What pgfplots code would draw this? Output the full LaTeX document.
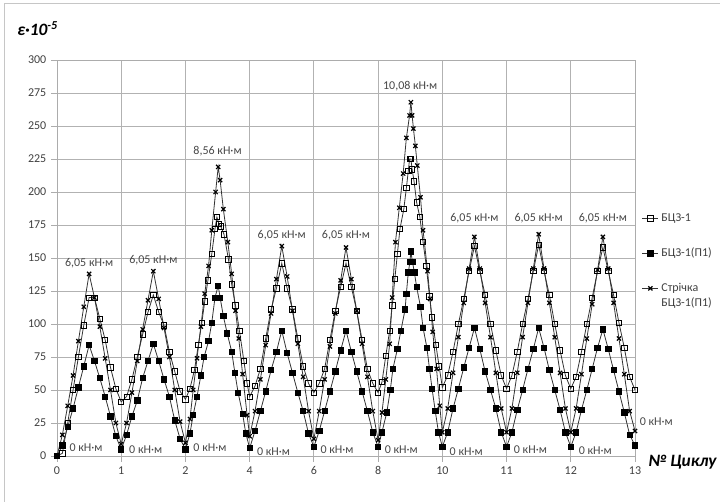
\documentclass[border=0pt]{standalone}
\usepackage{fontspec}
\setmainfont{Carlito}
\usepackage{pgfplots}
\pgfplotsset{compat=1.18}

\tikzset{
  ann/.style={font=\fontsize{9}{10}\selectfont, text=black!72, inner sep=1pt},
}

\begin{document}
\begin{tikzpicture}
\path[use as bounding box] (0,0) rectangle (540pt,376.5pt);
\draw[gray!45, line width=0.75pt] (3pt,0pt) -- (3pt,373.5pt) -- (540pt,373.5pt);
\begin{axis}[
  at={(42.75pt,34.5pt)}, anchor=south west,
  width=433.5pt, height=297pt, scale only axis,
  xmin=0, xmax=9, ymin=0, ymax=300,
  xtick={0,...,9}, xticklabels={0,1,2,4,6,8,10,11,12,13},
  ytick={0,25,...,300},
  tick pos=left,
  grid=major,
  major grid style={gray!60, line width=0.6pt},
  axis line style={gray!65, line width=0.6pt},
  tick style={gray!65, line width=0.6pt},
  tick align=outside, major tick length=4.5pt,
  ticklabel style={font=\fontsize{9}{10}\selectfont, text=black!75},
  /pgf/number format/assume math mode=true,
  clip=false,
  legend cell align=left,
  legend style={draw=none, fill=none, inner sep=0pt,
    at={(axis description cs:1,0.62)}, anchor=north west, xshift=5pt,
    font=\fontsize{9}{10}\selectfont, text=black!75, row sep=14.5pt},
  legend image code/.code={\draw[mark repeat=2,mark phase=2]
    plot coordinates {(0pt,0pt) (6pt,0pt) (12pt,0pt)};},
]

% БЦЗ-1
\addplot[black!80, line width=0.6pt, mark=square, mark size=2pt,
  mark options={solid, fill=white, draw=black, line width=0.6pt}] coordinates {
 (0,0) (0.0833,2) (0.1667,25) (0.25,50) (0.3333,75) (0.4167,99) (0.5,120) (0.5833,120) (0.6667,104) (0.75,88) (0.8333,67) (0.9167,51) (1,41)
 (1.0833,45) (1.1667,58) (1.25,75) (1.3333,92) (1.4167,109) (1.5,122) (1.5833,109) (1.6667,99) (1.75,79) (1.8333,64) (1.9167,49) (2,43)
 (2.07,51) (2.14,65) (2.20,84) (2.255,101) (2.30,117) (2.35,133) (2.41,153) (2.46,172) (2.49,181) (2.52,176) (2.55,174) (2.60,168) (2.67,149) (2.72,130) (2.78,114) (2.84,95) (2.91,72) (2.96,55) (3,45)
 (3.0833,53) (3.1667,66) (3.25,89) (3.3333,111) (3.4167,127) (3.5,146) (3.5833,127) (3.6667,111) (3.75,89) (3.8333,68) (3.9167,55) (4,48)
 (4.0833,55) (4.1667,66) (4.25,88) (4.3333,110) (4.4167,128) (4.5,146) (4.5833,128) (4.6667,110) (4.75,88) (4.8333,66) (4.9167,55) (5,48)
 (5.06,56) (5.12,76) (5.18,95) (5.22,114) (5.26,134) (5.30,153) (5.34,172) (5.40,187) (5.44,203) (5.47,216) (5.49,225) (5.51,225) (5.53,217) (5.56,208) (5.60,192) (5.65,181) (5.70,162) (5.75,144) (5.80,121) (5.84,105) (5.90,84) (5.95,68) (6,52)
 (6.0833,61) (6.1667,79) (6.25,100) (6.3333,119) (6.4167,140) (6.5,159) (6.5833,140) (6.6667,122) (6.75,100) (6.8333,80) (6.9167,61) (7,51)
 (7.0833,61) (7.1667,79) (7.25,100) (7.3333,119) (7.4167,140) (7.5,160) (7.5833,140) (7.6667,122) (7.75,100) (7.8333,80) (7.9167,61) (8,51)
 (8.0833,60) (8.1667,79) (8.25,100) (8.3333,120) (8.4167,140) (8.5,158) (8.5833,140) (8.6667,122) (8.75,101) (8.8333,82) (8.9167,60) (9,50)
};
\addlegendentry{БЦЗ-1}

% БЦЗ-1(П1)
\addplot[black!80, line width=0.6pt, mark=square*, mark size=2pt,
  mark options={solid, fill=black, draw=black}] coordinates {
 (0,0) (0.0833,8) (0.1667,22) (0.25,36) (0.3333,52) (0.4167,68) (0.5,84) (0.5833,72) (0.6667,59) (0.75,45) (0.8333,30) (0.9167,15) (1,5)
 (1.0833,16) (1.1667,30) (1.25,42) (1.3333,59) (1.4167,72) (1.5,85) (1.5833,72) (1.6667,58) (1.75,45) (1.8333,27) (1.9167,13) (2,5)
 (2.07,17) (2.12,31) (2.18,45) (2.24,61) (2.29,75) (2.36,87) (2.41,101) (2.46,120) (2.51,129) (2.54,120) (2.59,106) (2.65,93) (2.72,79) (2.77,63) (2.82,48) (2.89,32) (2.94,17) (3,6)
 (3.0833,19) (3.1667,34) (3.25,49) (3.3333,65) (3.4167,79) (3.5,95) (3.5833,78) (3.6667,63) (3.75,48) (3.8333,34) (3.9167,17) (4,7)
 (4.0833,19) (4.1667,34) (4.25,49) (4.3333,64) (4.4167,80) (4.5,95) (4.5833,79) (4.6667,64) (4.75,49) (4.8333,34) (4.9167,18) (5,7)
 (5.06,18) (5.135,33) (5.19,50) (5.23,66) (5.30,81) (5.355,95) (5.42,111) (5.44,123) (5.47,139) (5.495,147) (5.51,155) (5.535,147) (5.565,139) (5.60,128) (5.66,113) (5.70,97) (5.76,82) (5.80,66) (5.84,51) (5.89,34) (5.94,18) (6,7)
 (6.0833,18) (6.1667,36) (6.25,51) (6.3333,67) (6.4167,82) (6.5,97) (6.5833,81) (6.6667,64) (6.75,50) (6.8333,36) (6.9167,18) (7,7)
 (7.0833,18) (7.1667,35) (7.25,50) (7.3333,66) (7.4167,81) (7.5,97) (7.5833,82) (7.6667,65) (7.75,50) (7.8333,35) (7.9167,18) (8,7)
 (8.0833,18) (8.1667,35) (8.25,50) (8.3333,66) (8.4167,82) (8.5,96) (8.5833,81) (8.6667,65) (8.75,49) (8.8333,33) (8.9167,16) (9,8)
};
\addlegendentry{БЦЗ-1(П1)}

% Стрічка БЦЗ-1(П1)
\addplot[black!80, line width=0.6pt, mark=x, mark size=2.2pt,
  mark options={solid, draw=black, line width=0.9pt}] coordinates {
 (0,0) (0.0833,16) (0.1667,38) (0.25,61) (0.3333,87) (0.4167,113) (0.5,138) (0.5833,120) (0.6667,98) (0.75,74) (0.8333,50) (0.9167,25) (1,9)
 (1.0833,25) (1.1667,48) (1.25,72) (1.3333,96) (1.4167,118) (1.5,140) (1.5833,119) (1.6667,97) (1.75,75) (1.8333,50) (1.9167,26) (2,10)
 (2.07,28) (2.12,50) (2.18,74) (2.24,98) (2.30,123) (2.36,144) (2.41,171) (2.47,200) (2.51,219) (2.54,209) (2.59,187) (2.66,162) (2.72,138) (2.78,110) (2.83,89) (2.89,62) (2.96,31) (3,15)
 (3.0833,34) (3.1667,58) (3.25,84) (3.3333,108) (3.4167,134) (3.5,159) (3.5833,136) (3.6667,110) (3.75,85) (3.8333,60) (3.9167,34) (4,13)
 (4.0833,34) (4.1667,58) (4.25,83) (4.3333,108) (4.4167,133) (4.5,158) (4.5833,134) (4.6667,110) (4.75,85) (4.8333,60) (4.9167,34) (5,12)
 (5.06,33) (5.12,58) (5.18,85) (5.22,120) (5.27,162) (5.33,188) (5.39,214) (5.44,241) (5.49,258) (5.51,268) (5.53,258) (5.55,248) (5.58,235) (5.61,220) (5.66,196) (5.70,171) (5.77,140) (5.81,119) (5.85,94) (5.91,66) (5.96,38) (6,18)
 (6.0833,36) (6.1667,63) (6.25,90) (6.3333,116) (6.4167,142) (6.5,166) (6.5833,142) (6.6667,116) (6.75,90) (6.8333,63) (6.9167,36) (7,18)
 (7.0833,36) (7.1667,63) (7.25,90) (7.3333,116) (7.4167,142) (7.5,168) (7.5833,142) (7.6667,116) (7.75,90) (7.8333,63) (7.9167,36) (8,18)
 (8.0833,36) (8.1667,62) (8.25,89) (8.3333,115) (8.4167,141) (8.5,166) (8.5833,142) (8.6667,116) (8.75,89) (8.8333,62) (8.9167,34) (9,19)
};
\addlegendentry{\smash{\rlap{\raisebox{-11pt}{БЦЗ-1(П1)}}}Стрічка}

% moment values at the peaks
\node[ann] at (axis cs:0.5,146) {6,05 кН·м};
\node[ann] at (axis cs:1.5,148) {6,05 кН·м};
\node[ann] at (axis cs:2.5,231) {8,56 кН·м};
\node[ann] at (axis cs:3.5,167) {6,05 кН·м};
\node[ann] at (axis cs:4.5,167) {6,05 кН·м};
\node[ann] at (axis cs:5.5,280) {10,08 кН·м};
\node[ann] at (axis cs:6.5,180) {6,05 кН·м};
\node[ann] at (axis cs:7.5,180) {6,05 кН·м};
\node[ann] at (axis cs:8.5,180) {6,05 кН·м};
% unloaded states
\node[ann, anchor=west] at (axis cs:0.17,6) {0 кН·м};
\node[ann, anchor=west] at (axis cs:1.1,4.5) {0 кН·м};
\node[ann, anchor=west] at (axis cs:2.1,6) {0 кН·м};
\node[ann, anchor=west] at (axis cs:3.09,3) {0 кН·м};
\node[ann, anchor=west] at (axis cs:4.08,4.5) {0 кН·м};
\node[ann, anchor=west] at (axis cs:5.08,4.5) {0 кН·м};
\node[ann, anchor=west] at (axis cs:6.09,3) {0 кН·м};
\node[ann, anchor=west] at (axis cs:7.09,4.5) {0 кН·м};
\node[ann, anchor=west] at (axis cs:8.1,4) {0 кН·м};
\node[ann, anchor=west] at (axis cs:9.05,26) {0 кН·м};
\end{axis}

\node[anchor=west, inner sep=0pt, font=\fontsize{13}{14}\selectfont\bfseries\itshape]
  at (12.75pt,354.75pt) {ε·10\textsuperscript{-5}};
\node[anchor=west, inner sep=0pt, font=\fontsize{13}{14}\selectfont\bfseries\itshape]
  at (486pt,30pt) {№ Циклу};
\end{tikzpicture}
\end{document}
